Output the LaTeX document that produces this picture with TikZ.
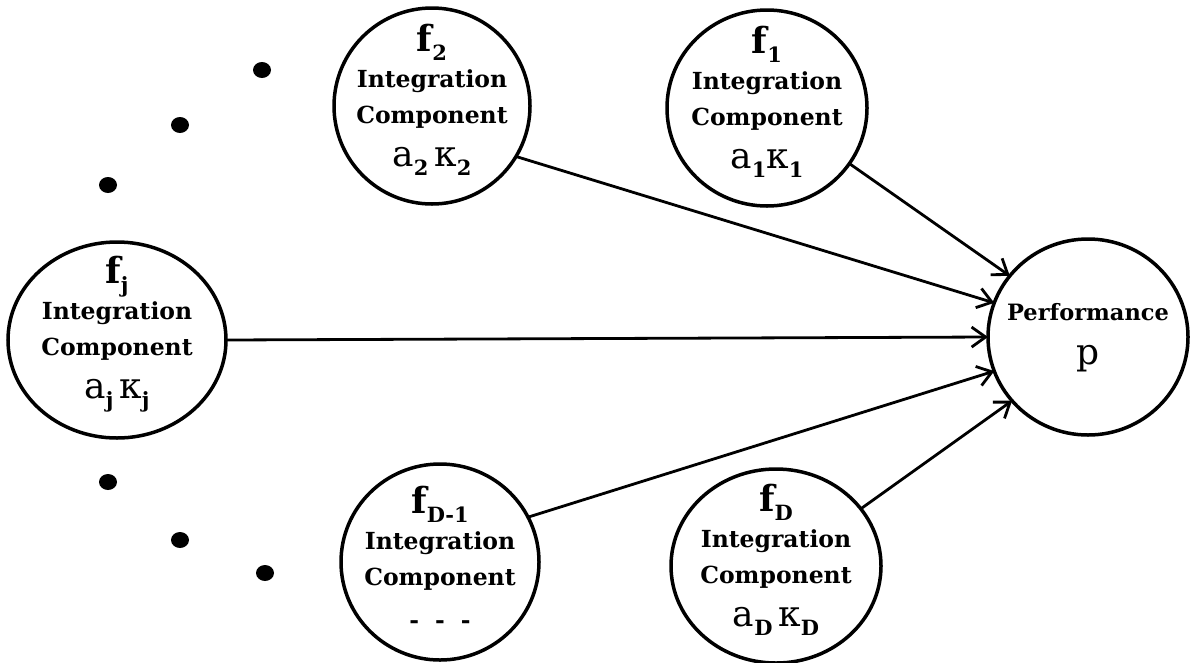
\documentclass[tikz,border=0pt]{standalone}
\usepackage{fontspec}
\setmainfont{DejaVu Serif}
\usetikzlibrary{arrows.meta,shapes.geometric}
% text styles used inside the component circles
\newcommand\lbl{\fontsize{23.5}{36}\selectfont\bfseries}
\newcommand\bigf[1]{{\fontsize{36}{36}\selectfont\bfseries #1}}
\newcommand\subs[1]{\raisebox{-9pt}{\fontsize{21}{21}\selectfont\bfseries #1}}
\newcommand\coef[1]{{\fontsize{36}{36}\selectfont\mdseries #1}}
\begin{document}
\begin{tikzpicture}[x=1pt,y=-1pt,
  comp/.style={draw, line width=3.5pt, ellipse, inner sep=0pt, outer sep=0pt},
  txt/.style={inner sep=0pt, align=center, font=\lbl},
  link/.style={line width=2.8pt, -{Straight Barb[length=14pt,width=20pt,line width=2.8pt]}},
  dot/.style={fill=black}]
\useasboundingbox (0,0) rectangle (1190,662);

% integration components: outline first, then the text block at its centre
\node[comp, minimum width=196pt, minimum height=196pt] (f2) at (432,106) {};
\node[txt, yshift=6pt] (f2t) at (f2.center)
  {\bigf{f}\subs{2}\\Integration\\Component\\[7pt]\coef{a}\subs{2}\coef{\,κ}\subs{2}};
\node[comp, minimum width=200pt, minimum height=196pt] (f1) at (767,108) {};
\node[txt, yshift=6pt] (f1t) at (f1.center)
  {\bigf{f}\subs{1}\\Integration\\Component\\[7pt]\coef{a}\subs{1}\coef{κ}\subs{1}};
\node[comp, minimum width=218pt, minimum height=196pt] (fj) at (117,340) {};
\node[txt, yshift=6pt] (fjt) at (fj.center)
  {\bigf{f}\subs{j}\\Integration\\Component\\[7pt]\coef{a}\subs{j}\coef{\,κ}\subs{j}};
\node[comp, minimum width=198pt, minimum height=196pt] (fd1) at (440,562) {};
\node[txt, yshift=5pt] (fd1t) at (fd1.center)
  {\bigf{f}\subs{D-1}\\Integration\\Component\\[7pt]{\bfseries -\hspace{16pt}-\hspace{16pt}-}};
\node[comp, minimum width=210pt, minimum height=194pt] (fd) at (776,566) {};
\node[txt, yshift=6pt] (fdt) at (fd.center)
  {\bigf{f}\subs{D}\\Integration\\Component\\[7pt]\coef{a}\subs{D}\coef{\,κ}\subs{D}};

% performance
\node[comp, minimum width=200pt, minimum height=196pt] (P) at (1088,337) {};
\node[txt, font=\fontsize{22.5}{30}\selectfont\bfseries, yshift=-1pt] (Pt) at (P.center)
  {Performance\\[14pt]\coef{p}};

% connectors into the performance node
\draw[link] (f1.-34) -- (P.142);
\draw[link] (f2.-31) -- (P.160);
\draw[link] (fj.east) -- (P.west);
\draw[link] (fd1.27) -- (P.200);
\draw[link] (fd.34) -- (P.220);

% ellipsis dots between the components
\fill[dot] (262,70) ellipse (9pt and 8pt);
\fill[dot] (180,125) ellipse (9pt and 8pt);
\fill[dot] (108,185) ellipse (9pt and 8pt);
\fill[dot] (108,482) ellipse (9pt and 8pt);
\fill[dot] (180,540) ellipse (9pt and 8pt);
\fill[dot] (265,573) ellipse (9pt and 8pt);
\end{tikzpicture}
\end{document}
